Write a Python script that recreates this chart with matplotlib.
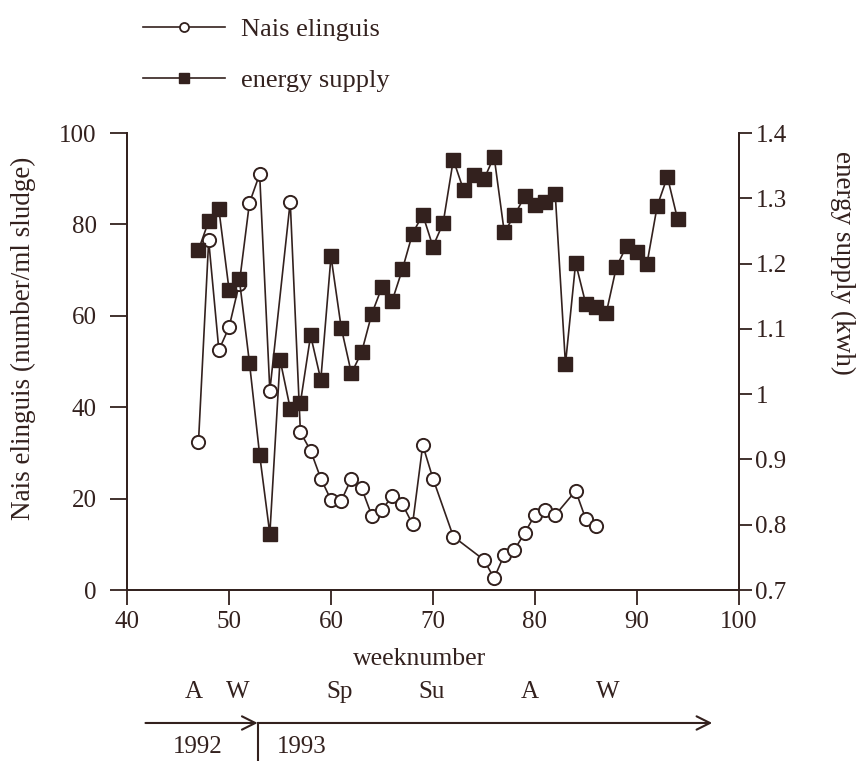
import matplotlib
matplotlib.use("Agg")
import matplotlib.pyplot as plt
from matplotlib.ticker import FormatStrFormatter
from matplotlib.lines import Line2D

plt.rcParams['font.family'] = ['Liberation Serif', 'DejaVu Serif']
plt.rcParams['font.size'] = 18

INK = '#33211e'

# Nais elinguis counts per week
nais_weeks = [47, 48, 49, 50, 51, 52, 53, 54, 56, 57, 58, 59, 60, 61, 62, 63,
              64, 65, 66, 67, 68, 69, 70, 72, 75, 76, 77, 78, 79, 80, 81, 82,
              84, 85, 86]
nais_values = [32.4, 76.5, 52.5, 57.5, 67, 84.7, 91, 43.6, 85, 34.5, 30.5, 24.4,
               19.7, 19.5, 24.4, 22.3, 16.3, 17.5, 20.6, 18.8, 14.4, 31.7, 24.4,
               11.7, 6.6, 2.6, 7.7, 8.8, 12.5, 16.4, 17.6, 16.4, 21.7, 15.5, 13.9]

# energy supply per week (kwh)
energy_weeks = [47, 48, 49, 50, 51, 52, 53, 54, 55, 56, 57, 58, 59, 60, 61, 62,
                63, 64, 65, 66, 67, 68, 69, 70, 71, 72, 73, 74, 75, 76, 77, 78,
                79, 80, 81, 82, 83, 84, 85, 86, 87, 88, 89, 90, 91, 92, 93, 94]
energy_values = [1.221, 1.265, 1.283, 1.160, 1.177, 1.048, 0.907, 0.786, 1.053,
                 0.978, 0.987, 1.090, 1.022, 1.211, 1.102, 1.032, 1.064, 1.123,
                 1.164, 1.143, 1.191, 1.246, 1.275, 1.226, 1.262, 1.359, 1.313,
                 1.336, 1.329, 1.364, 1.248, 1.274, 1.303, 1.290, 1.295, 1.306,
                 1.046, 1.201, 1.138, 1.134, 1.124, 1.195, 1.227, 1.217, 1.200,
                 1.288, 1.333, 1.268]

season_labels = ['A', 'W', 'Sp', 'Su', 'A', 'W']
season_weeks = [46.5, 50.9, 60.8, 69.9, 79.5, 87.2]
year_labels = ['1992', '1993']
year_weeks = [46.9, 57.1]
year_break = 52.8
timeline_start, timeline_end = 41.8, 97.4

fig = plt.figure(figsize=(8.59, 7.61), dpi=100)
ax = fig.add_axes([0.148, 0.2247, 0.712, 0.6005])
ax2 = ax.twinx()

ax.plot(nais_weeks, nais_values, color=INK, lw=1.2, marker='o', ms=9.5,
        mfc='white', mec=INK, mew=1.4, zorder=3)
ax2.plot(energy_weeks, energy_values, color=INK, lw=1.2, marker='s', ms=9.5,
         mfc=INK, mec=INK, zorder=3)

ax.set_xlim(40, 100)
ax.set_ylim(0, 100)
ax2.set_ylim(0.7, 1.4)
ax.set_xticks(range(40, 101, 10))
ax.set_yticks(range(0, 101, 20))
ax2.set_yticks([0.7, 0.8, 0.9, 1.0, 1.1, 1.2, 1.3, 1.4])
ax2.yaxis.set_major_formatter(FormatStrFormatter('%g'))

for a in (ax, ax2):
    a.spines['top'].set_visible(False)
    for s in a.spines.values():
        s.set_color(INK)
        s.set_linewidth(1.3)
    a.tick_params(direction='out', width=1.3, color=INK, labelcolor=INK)
ax.tick_params(axis='x', length=11, pad=4)
ax.tick_params(axis='y', length=12, pad=10)
ax2.tick_params(axis='y', length=9, pad=3)

ax.set_ylabel('Nais elinguis (number/ml sludge)', color=INK, fontsize=19.5,
              va='center')
ax.yaxis.set_label_coords(-0.170, 0.55)
ax2.set_ylabel('energy supply (kwh)', color=INK, rotation=270, fontsize=19.5,
               va='center')
ax2.yaxis.set_label_coords(1.170, 0.715)
ax.set_xlabel('weeknumber', color=INK, fontsize=18.5, va='center')
ax.xaxis.set_label_coords(0.479, -0.151)

# seasons and years under the week axis
tr = ax.get_xaxis_transform()
for lab, wk in zip(season_labels, season_weeks):
    ax.text(wk, -0.224, lab, transform=tr, ha='center', va='center',
            color=INK, clip_on=False)
arrow_y = -0.291
for x0, x1 in [(timeline_start, year_break), (year_break, timeline_end)]:
    ax.annotate('', xy=(x1, arrow_y), xytext=(x0, arrow_y),
                xycoords=tr, textcoords=tr,
                arrowprops=dict(arrowstyle='->', color=INK, lw=1.5,
                                shrinkA=0, shrinkB=0, mutation_scale=24))
ax.plot([year_break, year_break], [arrow_y, -0.38], transform=tr,
        color=INK, lw=1.5, clip_on=False)
for lab, wk in zip(year_labels, year_weeks):
    ax.text(wk, -0.344, lab, transform=tr, ha='center', va='center',
            color=INK, clip_on=False)

handles = [Line2D([], [], color=INK, lw=1.2, marker='o', ms=6.5, mfc='white',
                  mec=INK, mew=1.3),
           Line2D([], [], color=INK, lw=1.2, marker='s', ms=7, mfc=INK,
                  mec=INK)]
fig.legend(handles, ['Nais elinguis', 'energy supply'], loc='upper left',
           bbox_to_anchor=(0.139, 1.008), frameon=False, handlelength=3.1,
           handletextpad=0.6, labelspacing=1.05, labelcolor=INK, numpoints=1,
           fontsize=19)

fig.savefig('out.png', dpi=100)
